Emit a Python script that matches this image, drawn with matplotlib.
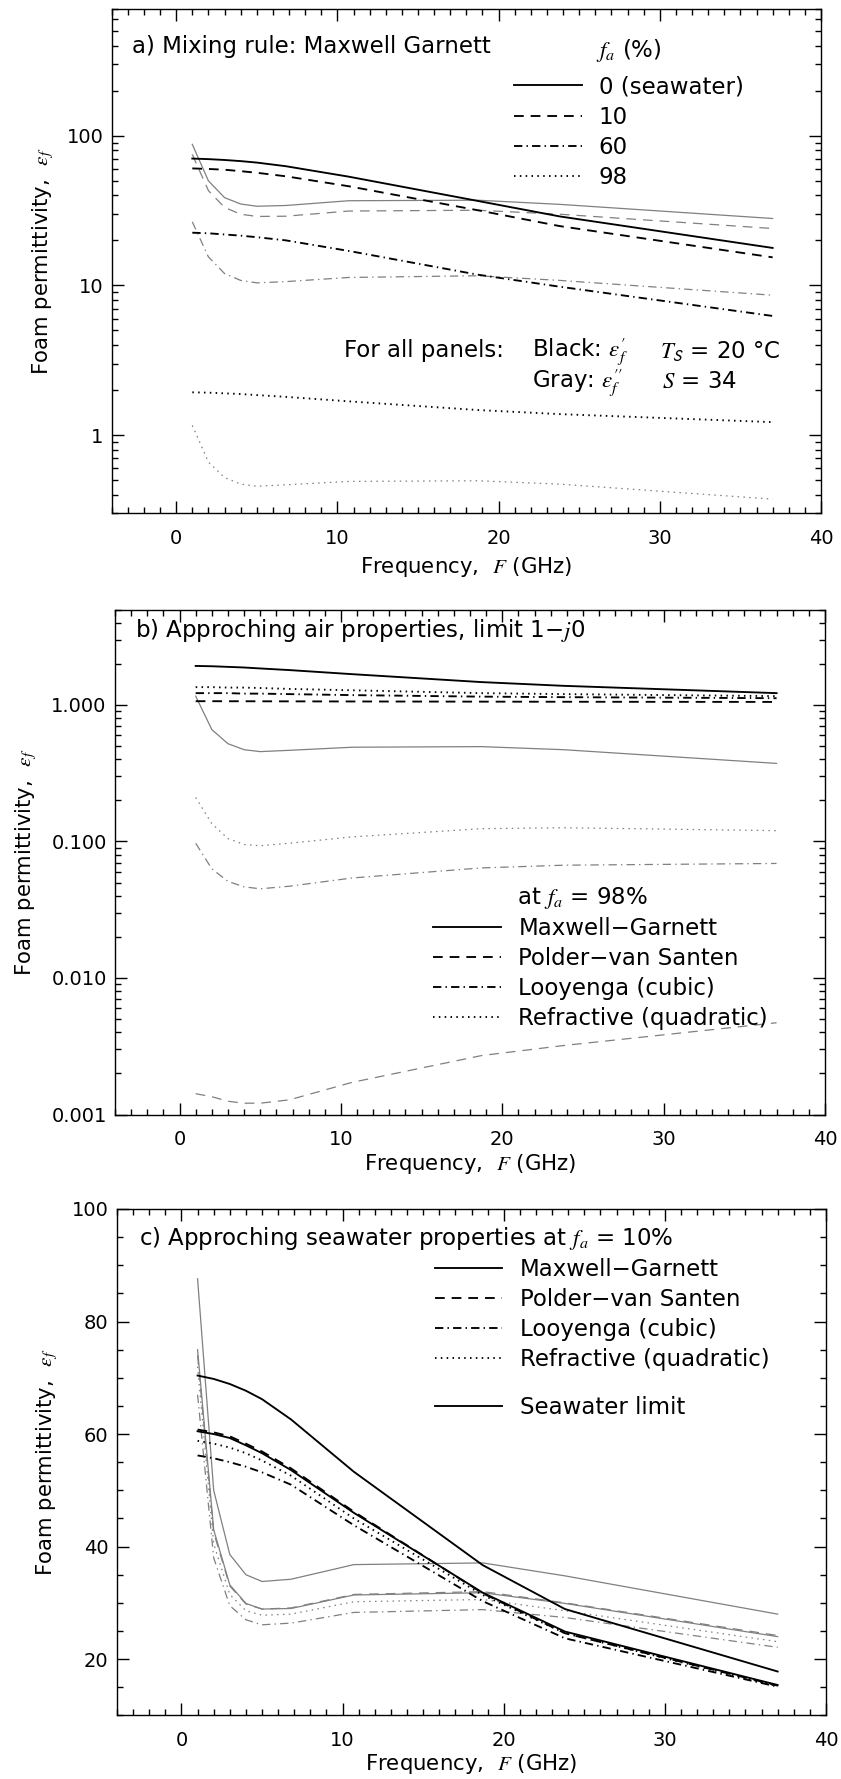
import numpy as np
import matplotlib
matplotlib.use("Agg")
import matplotlib.pyplot as plt
from matplotlib.lines import Line2D
from matplotlib.ticker import MultipleLocator, FixedLocator, FixedFormatter, LogLocator, NullFormatter

plt.rcParams['font.family'] = ['DejaVu Sans']
plt.rcParams['mathtext.fontset'] = 'stix'
plt.rcParams['lines.scale_dashes'] = False

# ---------------- data ----------------
freq = [1.0, 2.0, 3.0, 4.0, 5.0, 6.8, 10.7, 18.7, 23.8, 37.0]

# seawater, f_a = 0 %
sw_real = [70.4, 69.8, 68.9, 67.7, 66.2, 62.6, 53.3, 36.7, 28.9, 17.8]
sw_imag = [87.6, 50.0, 38.6, 35.0, 33.8, 34.2, 36.8, 37.1, 34.8, 28.0]

# f_a = 10 %
mg10_real = [60.5, 60.0, 59.3, 58.0, 56.6, 53.6, 46.0, 31.8, 24.9, 15.4]
mg10_imag = [75.0, 43.0, 33.2, 29.9, 28.9, 29.0, 31.4, 31.8, 29.9, 24.0]
pvs10_real = [60.8, 60.3, 59.6, 58.3, 56.9, 53.9, 46.2, 31.7, 24.6, 15.3]
pvs10_imag = [74.0, 42.5, 33.0, 29.8, 28.9, 29.1, 31.5, 32.0, 30.0, 24.2]
loo10_real = [56.2, 55.7, 55.0, 54.2, 53.2, 51.0, 43.8, 30.3, 23.7, 15.1]
loo10_imag = [67.0, 38.0, 29.5, 27.0, 26.1, 26.4, 28.3, 28.8, 27.4, 22.1]
ref10_real = [58.8, 58.3, 57.6, 56.6, 55.3, 52.6, 45.0, 31.4, 24.6, 15.2]
ref10_imag = [72.0, 40.5, 31.5, 28.6, 27.8, 28.0, 30.2, 30.6, 28.6, 23.1]

# f_a = 60 % (Maxwell Garnett)
mg60_real = [22.5, 22.3, 21.9, 21.5, 21.0, 20.0, 17.0, 11.8, 9.8, 6.25]
mg60_imag = [26.6, 15.5, 12.0, 10.8, 10.4, 10.6, 11.3, 11.6, 10.8, 8.6]

# f_a = 98 %
mg98_real = [1.93, 1.92, 1.90, 1.88, 1.85, 1.80, 1.68, 1.47, 1.38, 1.22]
mg98_imag = [1.16, 0.66, 0.52, 0.47, 0.455, 0.465, 0.49, 0.495, 0.47, 0.373]
pvs98_real = [1.065, 1.065, 1.064, 1.064, 1.063, 1.062, 1.060, 1.057, 1.055, 1.052]
pvs98_imag = [0.00142, 0.00135, 0.00125, 0.00121, 0.00121, 0.00128, 0.00172, 0.0027, 0.0032, 0.0047]
loo98_real = [1.22, 1.22, 1.22, 1.21, 1.21, 1.20, 1.18, 1.15, 1.14, 1.12]
loo98_imag = [0.097, 0.063, 0.051, 0.0465, 0.045, 0.047, 0.054, 0.064, 0.067, 0.069]
ref98_real = [1.35, 1.35, 1.34, 1.34, 1.33, 1.31, 1.28, 1.22, 1.20, 1.16]
ref98_imag = [0.21, 0.135, 0.105, 0.095, 0.093, 0.097, 0.108, 0.124, 0.126, 0.120]

xticks = [0, 10, 20, 30, 40]
a_yticks = [1, 10, 100]
a_yticklabels = ["1", "10", "100"]
b_yticks = [0.001, 0.01, 0.1, 1.0]
b_yticklabels = ["0.001", "0.010", "0.100", "1.000"]
c_yticks = [20, 40, 60, 80, 100]
c_yticklabels = ["20", "40", "60", "80", "100"]

fa_labels = ["0 (seawater)", "10", "60", "98"]
rule_labels = ["Maxwell\u2212Garnett", "Polder\u2212van Santen", "Looyenga (cubic)", "Refractive (quadratic)"]

# ---------------- styles ----------------
W, H = 841, 1779
GRAY = '0.5'
LS_SOLID = '-'
LS_DASH = (0, (7.0, 5.0))
LS_DASHDOT = (0, (6.0, 3.0, 1.0, 3.0))
LS_DOT = (0, (1.1, 3.1))
LW_K = 1.35
LW_G = 0.9
FS_TXT = 16.5
FS_TICK = 14
FS_LAB = 15.3

fig = plt.figure(figsize=(W / 100, H / 100), dpi=100)


def add_axes(left, right, top, bottom):
    return fig.add_axes([left / W, 1 - bottom / H, (right - left) / W, (bottom - top) / H])


def style_axes(ax, ylabel_x, xlabel_y):
    ax.set_xlim(-4, 40)
    ax.xaxis.set_major_locator(FixedLocator(xticks))
    ax.xaxis.set_minor_locator(MultipleLocator(1))
    ax.tick_params(which='both', direction='in', top=True, right=True, width=1.0)
    ax.tick_params(which='major', length=8.5, labelsize=FS_TICK)
    ax.tick_params(which='minor', length=4.5)
    ax.tick_params(axis='x', which='major', pad=11.5)
    ax.tick_params(axis='y', which='major', pad=6)
    for s in ax.spines.values():
        s.set_linewidth(1.0)
    ax.set_xlabel("Frequency,  $F$ (GHz)", fontsize=FS_LAB, va='center')
    ax.xaxis.set_label_coords(0.5, xlabel_y)
    ax.set_ylabel("Foam permittivity,  $\\epsilon_f$", fontsize=FS_LAB, va='center')
    ax.yaxis.set_label_coords(ylabel_x, 0.5)


def txt(ax, xpx, ypx, s, **kw):
    ax.text(xpx / W, 1 - ypx / H, s, transform=fig.transFigure, fontsize=FS_TXT,
            ha='left', va='center', **kw)


def legend(ax, styles, labels, xpx, ytop_px, hl, hp):
    handles = [Line2D([], [], color='k', lw=LW_K, ls=st) for st in styles]
    leg = ax.legend(handles, labels, loc='upper left',
                    bbox_to_anchor=(xpx / W, 1 - ytop_px / H), bbox_transform=fig.transFigure,
                    frameon=False, fontsize=FS_TXT, handlelength=hl, handletextpad=hp,
                    labelspacing=0.31, borderpad=0, borderaxespad=0)
    return leg


# ---------------- panel a ----------------
axa = add_axes(111.7, 821, 9.3, 513.3)
axa.set_yscale('log')
axa.set_ylim(0.3, 700)
style_axes(axa, -0.097, -0.106)
axa.yaxis.set_major_locator(FixedLocator(a_yticks))
axa.yaxis.set_major_formatter(FixedFormatter(a_yticklabels))
axa.yaxis.set_minor_locator(LogLocator(base=10, subs=np.arange(2, 10)))
axa.yaxis.set_minor_formatter(NullFormatter())

a_real = [sw_real, mg10_real, mg60_real, mg98_real]
a_imag = [sw_imag, mg10_imag, mg60_imag, mg98_imag]
styles4 = [LS_SOLID, LS_DASH, LS_DASHDOT, LS_DOT]
for vals, st in zip(a_imag, styles4):
    axa.plot(freq, vals, color=GRAY, lw=LW_G, ls=st)
for vals, st in zip(a_real, styles4):
    axa.plot(freq, vals, color='k', lw=LW_K, ls=st)

txt(axa, 132.3, 47, "a) Mixing rule: Maxwell Garnett")
txt(axa, 596, 50, "$f_a$ (%)")
legend(axa, styles4, fa_labels, 514.4, 75.5, 2.97, 0.70)
txt(axa, 344.5, 351, "For all panels:")
txt(axa, 532.3, 351, "Black: $\\epsilon_f'$")
txt(axa, 660, 351, "$T_{\\mathsf{S}}$ = 20 \u00b0C")
txt(axa, 532.3, 382, "Gray: $\\epsilon_f''$")
txt(axa, 662, 382, "$S$ = 34")

# ---------------- panel b ----------------
axb = add_axes(115, 825, 609.5, 1114.5)
axb.set_yscale('log')
axb.set_ylim(0.001, 5)
style_axes(axb, -0.125, -0.099)
axb.yaxis.set_major_locator(FixedLocator(b_yticks))
axb.yaxis.set_major_formatter(FixedFormatter(b_yticklabels))
axb.yaxis.set_minor_locator(LogLocator(base=10, subs=np.arange(2, 10)))
axb.yaxis.set_minor_formatter(NullFormatter())

b_real = [mg98_real, pvs98_real, loo98_real, ref98_real]
b_imag = [mg98_imag, pvs98_imag, loo98_imag, ref98_imag]
for vals, st in zip(b_imag, styles4):
    axb.plot(freq, vals, color=GRAY, lw=LW_G, ls=st)
for vals, st in zip(b_real, styles4):
    axb.plot(freq, vals, color='k', lw=LW_K, ls=st)

txt(axb, 135, 630, "b) Approching air properties, limit 1\u2212$j$0")
txt(axb, 517, 897.5, "at $f_a$ = 98%")
legend(axb, styles4, rule_labels, 433.3, 917, 2.95, 0.76)

# ---------------- panel c ----------------
axc = add_axes(117, 826, 1209, 1715.4)
axc.set_ylim(10, 100)
style_axes(axc, -0.098, -0.095)
axc.yaxis.set_major_locator(FixedLocator(c_yticks))
axc.yaxis.set_major_formatter(FixedFormatter(c_yticklabels))
axc.yaxis.set_minor_locator(MultipleLocator(5))

c_real = [mg10_real, pvs10_real, loo10_real, ref10_real]
c_imag = [mg10_imag, pvs10_imag, loo10_imag, ref10_imag]
axc.plot(freq, sw_imag, color=GRAY, lw=LW_G, ls=LS_SOLID)
for vals, st in zip(c_imag, styles4):
    axc.plot(freq, vals, color=GRAY, lw=LW_G, ls=st)
axc.plot(freq, sw_real, color='k', lw=LW_K, ls=LS_SOLID)
for vals, st in zip(c_real, styles4):
    axc.plot(freq, vals, color='k', lw=LW_K, ls=st)

txt(axc, 139, 1238, "c) Approching seawater properties at $f_a$ = 10%")
leg1 = legend(axc, styles4, rule_labels, 435, 1258, 2.91, 0.80)
axc.add_artist(leg1)
legend(axc, [LS_SOLID], ["Seawater limit"], 435, 1396.5, 2.91, 0.80)

fig.savefig("out.png", dpi=100)
